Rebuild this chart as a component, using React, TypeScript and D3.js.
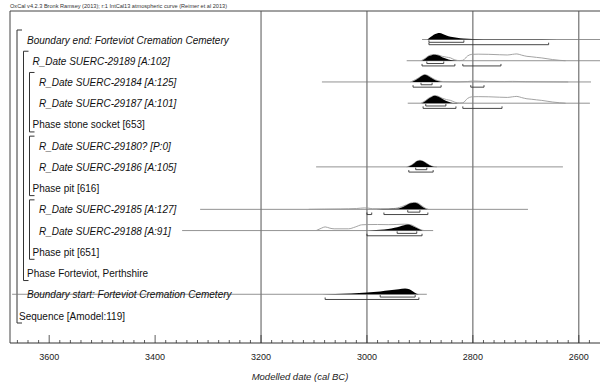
import React, { useEffect, useRef } from 'react';
import * as d3 from 'd3';

const HEADER = 'OxCal v4.2.3 Bronk Ramsey (2013); r:1 IntCal13 atmospheric curve (Reimer et al 2013)';
const AXIS_TITLE = 'Modelled date (cal BC)';
const TICK_LABELS = [3600, 3400, 3200, 3000, 2800, 2600];
const GRID_YEARS = [3200, 3000, 2800, 2600];

const ROW_LABELS = [
  'Boundary end: Forteviot Cremation Cemetery',
  'R_Date SUERC-29189 [A:102]',
  'R_Date SUERC-29184 [A:125]',
  'R_Date SUERC-29187 [A:101]',
  'Phase stone socket [653]',
  'R_Date SUERC-29180? [P:0]',
  'R_Date SUERC-29186 [A:105]',
  'Phase pit [616]',
  'R_Date SUERC-29185 [A:127]',
  'R_Date SUERC-29188 [A:91]',
  'Phase pit [651]',
  'Phase Forteviot, Perthshire',
  'Boundary start: Forteviot Cremation Cemetery',
  'Sequence [Amodel:119]',
];
const ROW_ITALIC = [true, true, true, true, false, true, true, false, true, true, false, false, true, false];
const ROW_LEVEL = [1, 2, 3, 3, 2, 3, 3, 2, 3, 3, 2, 1, 1, 0];

// [first row, last row, nesting level]
const GROUPS = [
  [0, 13, 0],
  [1, 11, 1],
  [2, 4, 2],
  [5, 7, 2],
  [8, 10, 2],
];

// distributions: [year BC, relative probability]
const END_POST = [[2886, 0], [2880, 0.3], [2874, 0.6], [2868, 0.76], [2863, 0.8], [2857, 0.7], [2850, 0.5], [2842, 0.35], [2830, 0.22], [2818, 0.12], [2800, 0.07], [2760, 0.04], [2700, 0.025], [2640, 0.01], [2600, 0]];

const S29189_PRIOR = [[2898, 0], [2890, 0.3], [2884, 0.6], [2878, 0.74], [2872, 0.78], [2866, 0.72], [2858, 0.55], [2850, 0.45], [2842, 0.35], [2834, 0.1], [2825, 0.02], [2819, 0.05], [2810, 0.6], [2802, 0.8], [2790, 0.82], [2770, 0.8], [2750, 0.75], [2735, 0.72], [2725, 0.8], [2717, 0.85], [2708, 0.7], [2698, 0.55], [2690, 0.5], [2680, 0.42], [2670, 0.35], [2660, 0.25], [2650, 0.15], [2636, 0.05], [2625, 0]];
const S29189_POST = [[2896, 0], [2890, 0.25], [2884, 0.55], [2878, 0.7], [2872, 0.75], [2866, 0.68], [2858, 0.45], [2850, 0.25], [2842, 0.1], [2834, 0.03], [2825, 0]];

const S29184_PRIOR = [[2918, 0], [2908, 0.3], [2900, 0.62], [2891, 0.92], [2884, 0.78], [2876, 0.45], [2866, 0.15], [2855, 0.04], [2830, 0.01], [2810, 0.05], [2800, 0.12], [2790, 0.1], [2775, 0.06], [2740, 0.05], [2725, 0.07], [2700, 0.04], [2660, 0.02], [2620, 0]];
const S29184_POST = [[2915, 0], [2908, 0.25], [2900, 0.6], [2895, 0.8], [2891, 0.9], [2886, 0.8], [2880, 0.55], [2872, 0.25], [2865, 0.08], [2858, 0]];

const S29187_PRIOR = [[2898, 0], [2890, 0.3], [2884, 0.6], [2878, 0.82], [2872, 0.95], [2866, 0.88], [2858, 0.62], [2850, 0.45], [2842, 0.35], [2834, 0.12], [2825, 0.02], [2819, 0.05], [2810, 0.6], [2802, 0.8], [2790, 0.82], [2770, 0.8], [2750, 0.75], [2735, 0.72], [2725, 0.8], [2717, 0.85], [2708, 0.7], [2698, 0.55], [2690, 0.5], [2680, 0.42], [2670, 0.35], [2660, 0.25], [2650, 0.15], [2636, 0.05], [2625, 0]];
const S29187_POST = [[2896, 0], [2890, 0.25], [2884, 0.55], [2878, 0.78], [2872, 0.92], [2866, 0.85], [2858, 0.55], [2850, 0.28], [2842, 0.1], [2834, 0.02], [2828, 0]];

const S29186_PRIOR = [[2925, 0], [2916, 0.22], [2910, 0.52], [2905, 0.74], [2900, 0.82], [2895, 0.74], [2888, 0.47], [2882, 0.22], [2875, 0.04], [2868, 0]];
const S29186_POST = [[2923, 0], [2916, 0.2], [2910, 0.5], [2905, 0.72], [2900, 0.8], [2895, 0.72], [2888, 0.45], [2882, 0.2], [2875, 0.03], [2870, 0]];

const S29185_PRIOR = [[3110, 0], [3080, 0.03], [3050, 0.05], [3020, 0.1], [3005, 0.18], [2998, 0.16], [2990, 0.08], [2975, 0.08], [2950, 0.1], [2935, 0.32], [2925, 0.58], [2918, 0.78], [2910, 0.86], [2903, 0.75], [2896, 0.42], [2889, 0.12], [2884, 0]];
const S29185_POST = [[2995, 0], [2970, 0.03], [2950, 0.06], [2940, 0.12], [2932, 0.3], [2925, 0.55], [2918, 0.75], [2910, 0.83], [2904, 0.72], [2897, 0.4], [2890, 0.1], [2886, 0]];

const S29188_PRIOR = [[3096, 0], [3086, 0.3], [3079, 0.46], [3070, 0.3], [3062, 0.22], [3035, 0.22], [3022, 0.45], [3010, 0.72], [3000, 0.75], [2980, 0.76], [2960, 0.74], [2945, 0.76], [2930, 0.8], [2923, 0.78], [2915, 0.68], [2907, 0.4], [2899, 0.12], [2892, 0]];
const S29188_POST = [[3005, 0], [2990, 0.04], [2975, 0.1], [2960, 0.2], [2948, 0.35], [2938, 0.52], [2930, 0.68], [2923, 0.76], [2916, 0.65], [2908, 0.38], [2900, 0.12], [2895, 0]];

const START_POST = [[3110, 0], [3060, 0.04], [3030, 0.1], [3000, 0.22], [2975, 0.35], [2957, 0.5], [2940, 0.62], [2928, 0.71], [2920, 0.62], [2913, 0.35], [2906, 0.08], [2902, 0]];

// row, line extent, prior, posterior, 68.2% ranges, 95.4% ranges
const DISTS = [
  { row: 0, line: [2896, 2560], prior: null, post: END_POST, r68: [[2883, 2817]], r95: [[2883, 2657]] },
  { row: 1, line: [2925, 2560], prior: S29189_PRIOR, post: S29189_POST, r68: [[2887, 2855]], r95: [[2896, 2834], [2819, 2747]] },
  { row: 2, line: [3085, 2577], prior: S29184_PRIOR, post: S29184_POST, r68: [[2898, 2877]], r95: [[2913, 2860], [2804, 2779]] },
  { row: 3, line: [2923, 2579], prior: S29187_PRIOR, post: S29187_POST, r68: [[2889, 2851]], r95: [[2894, 2832], [2819, 2745]] },
  { row: 6, line: [3096, 2630], prior: S29186_PRIOR, post: S29186_POST, r68: [[2908, 2887]], r95: [[2921, 2875]] },
  { row: 8, line: [3315, 2696], prior: S29185_PRIOR, post: S29185_POST, r68: [[2923, 2900]], r95: [[3000, 2991], [2968, 2885]] },
  { row: 9, line: [3349, 2875], prior: S29188_PRIOR, post: S29188_POST, r68: [[2943, 2906]], r95: [[3000, 2896]] },
  { row: 12, line: [3670, 2887], prior: null, post: START_POST, r68: [[2975, 2909]], r95: [[3079, 2902]] },
];

const FONT = '"Liberation Sans", Arial, sans-serif';

function OxCalPlot() {
  const svgRef = useRef(null);

  useEffect(() => {
    const width = 600;
    const height = 382;
    const svg = d3.select(svgRef.current);
    svg.selectAll('*').remove();

    const top = 11;
    const axisY = 343;
    const left = 10;

    const x = d3.scaleLinear().domain([3674, 2560]).range([left, width]);
    const rowY = d3.scaleLinear().domain([0, 13]).range([40, 316]);
    const h = d3.scaleLinear().domain([0, 1]).range([0, 8]);
    const labelX = [19, 27, 32.5, 39];
    const bracketX = [17, 23.5, 29.5];

    svg
      .append('text')
      .attr('x', left)
      .attr('y', 8)
      .attr('font-size', 5.6)
      .attr('font-family', FONT)
      .attr('fill', '#333')
      .text(HEADER);

    // frame
    svg
      .append('path')
      .attr('d', `M${left},${axisY}V${top}H${width}`)
      .attr('fill', 'none')
      .attr('stroke', '#444')
      .attr('stroke-width', 1);

    // grid lines
    GRID_YEARS.forEach((yr) => {
      svg
        .append('line')
        .attr('x1', x(yr))
        .attr('x2', x(yr))
        .attr('y1', top)
        .attr('y2', axisY)
        .attr('stroke', '#555')
        .attr('stroke-width', 1);
    });

    // brackets
    GROUPS.forEach(([a, b, lvl]) => {
      const bx = bracketX[lvl];
      svg
        .append('path')
        .attr('d', `M${bx + 5},${rowY(a) - 10}H${bx}V${rowY(b) + 7}H${bx + 5}`)
        .attr('fill', 'none')
        .attr('stroke', '#333')
        .attr('stroke-width', 1);
    });

    const area = d3
      .area()
      .x((d) => x(d[0]))
      .y0(0)
      .y1((d) => -h(d[1]))
      .curve(d3.curveMonotoneX);
    const outline = d3
      .line()
      .x((d) => x(d[0]))
      .y((d) => -h(d[1]))
      .curve(d3.curveMonotoneX);

    DISTS.forEach((dist) => {
      const base = rowY(dist.row) - 0.5;
      const g = svg.append('g').attr('transform', `translate(0,${base})`);
      g.append('line')
        .attr('x1', x(dist.line[0]))
        .attr('x2', x(dist.line[1]))
        .attr('y1', 0)
        .attr('y2', 0)
        .attr('stroke', '#777')
        .attr('stroke-width', 0.8);
      if (dist.prior) {
        g.append('path')
          .attr('d', outline(dist.prior))
          .attr('fill', 'none')
          .attr('stroke', '#999')
          .attr('stroke-width', 0.9);
      }
      g.append('path').attr('d', area(dist.post)).attr('fill', '#000');

      const bracket = (r, off) => {
        g.append('path')
          .attr('d', `M${x(r[0])},${off - 2}V${off}H${x(r[1])}V${off - 2}`)
          .attr('fill', 'none')
          .attr('stroke', '#333')
          .attr('stroke-width', 0.9);
      };
      dist.r68.forEach((r) => bracket(r, 2.8));
      dist.r95.forEach((r) => bracket(r, 5.2));
    });

    // row labels
    ROW_LABELS.forEach((label, i) => {
      svg
        .append('text')
        .attr('x', labelX[ROW_LEVEL[i]])
        .attr('y', rowY(i) + 3.5)
        .attr('font-size', 10)
        .attr('font-family', FONT)
        .attr('font-style', ROW_ITALIC[i] ? 'italic' : 'normal')
        .attr('fill', '#111')
        .text(label);
    });

    // axis
    svg
      .append('line')
      .attr('x1', left)
      .attr('x2', width)
      .attr('y1', axisY)
      .attr('y2', axisY)
      .attr('stroke', '#333')
      .attr('stroke-width', 1);

    d3.range(3660, 2560, -20).forEach((yr) => {
      const major = yr % 200 === 0;
      svg
        .append('line')
        .attr('x1', x(yr))
        .attr('x2', x(yr))
        .attr('y1', axisY)
        .attr('y2', axisY - (major ? 8 : 3))
        .attr('stroke', '#333')
        .attr('stroke-width', 0.8);
    });

    TICK_LABELS.forEach((yr) => {
      svg
        .append('text')
        .attr('x', x(yr))
        .attr('y', 360)
        .attr('text-anchor', 'middle')
        .attr('font-size', 9)
        .attr('font-family', FONT)
        .attr('fill', '#222')
        .text(yr);
    });

    svg
      .append('text')
      .attr('x', 300)
      .attr('y', 380)
      .attr('text-anchor', 'middle')
      .attr('font-size', 9.5)
      .attr('font-style', 'italic')
      .attr('font-family', FONT)
      .attr('fill', '#222')
      .text(AXIS_TITLE);

    svg.attr('viewBox', `0 0 ${width} ${height}`);
  }, []);

  return (
    <svg
      ref={svgRef}
      width={600}
      height={382}
      style={{ position: 'absolute', left: 0, top: 0, background: '#fff' }}
    />
  );
}

export default function App() {
  return <OxCalPlot />;
}
